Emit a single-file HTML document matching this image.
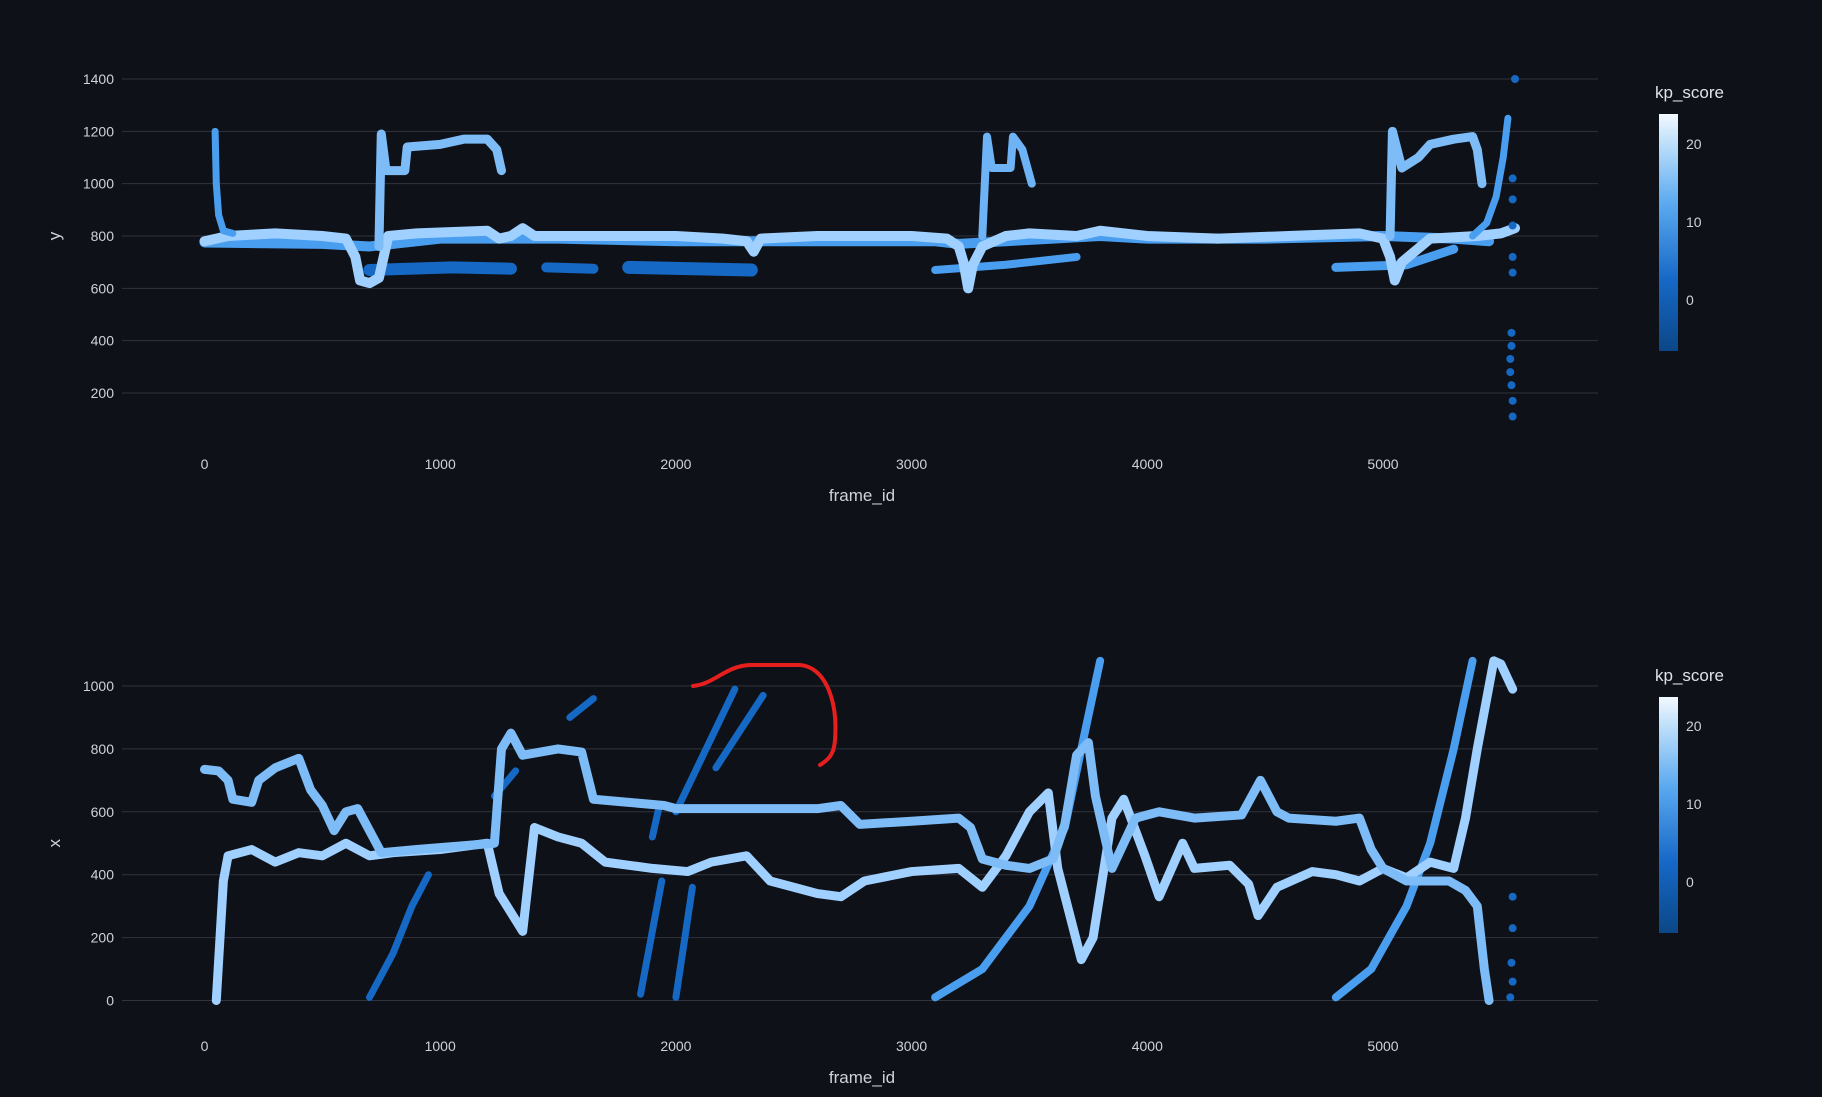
<!DOCTYPE html>
<html><head><meta charset="utf-8"><style>
body{margin:0;background:#0e1117;}
svg{display:block;font-family:"Liberation Sans",sans-serif;}
</style></head><body>
<svg id="c" width="1822" height="1097" viewBox="0 0 1822 1097">
<defs><linearGradient id="cb" x1="0" y1="1" x2="0" y2="0">
<stop offset="0" stop-color="#0b4787"/><stop offset="0.3" stop-color="#1668c7"/><stop offset="0.62" stop-color="#5aa9f0"/><stop offset="0.9" stop-color="#c7e4fb"/><stop offset="1" stop-color="#f3f9ff"/></linearGradient></defs>
<rect width="1822" height="1097" fill="#0e1117"/>
<g id="top"></g>
<g id="bot"></g>
<path d="M693,686 C715,684 725,666 750,665 L800,665 C825,667 838,700 835,740 C834,755 828,760 820,765" fill="none" stroke="#e61e1e" stroke-width="4" stroke-linecap="round"/>
</svg>
<script>
const xTicks=[0,1000,2000,3000,4000,5000];
const topYTicks=[200,400,600,800,1000,1200,1400];
const botYTicks=[0,200,400,600,800,1000];
const cbTicks=[20,10,0];
const LIGHT="#9fd0ff",MID="#4a9eef",DARK="#1568c4";
const topMain=[[0,780],[100,800],[300,810],[500,800],[600,790],[640,720],[660,630],[700,620],[740,640],[780,800],[900,810],[1200,820],[1250,790],[1300,800],[1350,830],[1400,800],[1600,800],[2000,800],[2200,790],[2300,780],[2330,740],[2360,790],[2600,800],[3000,800],[3150,790],[3200,760],[3220,700],[3240,600],[3260,690],[3300,760],[3400,800],[3500,810],[3700,800],[3800,820],[4000,800],[4300,790],[4600,800],[4900,810],[5000,790],[5030,720],[5050,630],[5080,700],[5200,790],[5400,800],[5500,810],[5560,830]];
const topSecond=[[0,775],[500,770],[700,760],[1000,790],[1500,790],[2000,780],[2500,780],[3100,780],[3200,770],[3600,790],[3800,800],[4000,790],[4500,790],[5000,800],[5300,790],[5450,780]];
const topSpike=[[45,1200],[50,1000],[60,880],[80,820],[120,810]];
const topBlock1=[[740,760],[750,1190],[770,1050],[850,1050],[860,1140],[1000,1150],[1100,1170],[1200,1170],[1240,1130],[1260,1050]];
const topBlock2=[[3300,800],[3320,1180],[3340,1060],[3420,1060],[3430,1180],[3470,1130],[3510,1000]];
const topBlock3=[[5030,800],[5040,1200],[5080,1060],[5150,1100],[5200,1150],[5300,1170],[5380,1180],[5400,1130],[5420,1000]];
const topRise=[[5380,800],[5440,850],[5480,950],[5510,1100],[5530,1250]];
const topDark1=[[700,670],[1050,680],[1300,675]];
const topDark2=[[1450,680],[1650,675]];
const topDark3=[[1800,680],[2320,670]];
const topDark4=[[3100,670],[3400,690],[3700,720]];
const topDark5=[[4800,680],[5100,690],[5300,750]];
const topDots=[[5550,1020],[5550,940],[5550,840],[5550,720],[5550,660],[5545,430],[5545,380],[5540,330],[5540,280],[5545,230],[5550,170],[5550,110],[5560,1400]];
const botUpper=[[0,735],[60,730],[100,700],[120,640],[200,630],[230,700],[300,740],[400,770],[450,670],[500,620],[550,540],[600,600],[650,610],[700,540],[750,470],[900,480],[1230,500],[1260,800],[1300,850],[1350,780],[1500,800],[1600,790],[1650,640],[1800,630],[1950,620],[2000,610],[2200,610],[2400,610],[2600,610],[2700,620],[2780,560],[3000,570],[3200,580],[3250,550],[3300,450],[3400,430],[3500,420],[3600,450],[3650,560],[3700,780],[3750,820],[3780,650],[3850,420],[3950,580],[4050,600],[4200,580],[4400,590],[4480,700],[4550,600],[4600,580],[4800,570],[4900,580],[4950,480],[5000,420],[5100,380],[5200,380],[5280,380],[5350,350],[5400,300],[5430,100],[5450,0]];
const botLower=[[50,0],[80,380],[100,460],[200,480],[300,440],[400,470],[500,460],[600,500],[700,460],[800,470],[1000,480],[1200,500],[1250,340],[1350,220],[1400,550],[1500,520],[1600,500],[1700,440],[1900,420],[2050,410],[2150,440],[2300,460],[2400,380],[2500,360],[2600,340],[2700,330],[2800,380],[3000,410],[3200,420],[3300,360],[3400,460],[3500,600],[3580,660],[3620,420],[3720,130],[3770,200],[3850,580],[3900,640],[3990,460],[4050,330],[4150,500],[4200,420],[4350,430],[4430,370],[4470,270],[4550,360],[4700,410],[4800,400],[4900,380],[5000,420],[5100,390],[5200,440],[5300,420],[5350,580],[5400,800],[5450,1000],[5470,1080],[5500,1070],[5550,990]];
const botD1=[[700,10],[800,150],[880,300],[950,400]];
const botD2=[[1230,650],[1320,730]];
const botD3=[[1550,900],[1650,960]];
const botD4=[[1850,20],[1940,380]];
const botD5=[[2000,10],[2070,360]];
const botD6=[[2000,600],[2250,990]];
const botD7=[[2170,740],[2370,970]];
const botD8=[[1900,520],[1930,620]];
const botC3=[[3100,10],[3300,100],[3500,300],[3650,550],[3720,800],[3800,1080]];
const botC4=[[4800,10],[4950,100],[5100,300],[5200,500],[5300,800],[5380,1080]];
const botDots=[[5550,330],[5550,230],[5545,120],[5550,60],[5540,10]];

const NS="http://www.w3.org/2000/svg";
function mk(tag,attrs,parent){const e=document.createElementNS(NS,tag);for(const k in attrs)e.setAttribute(k,attrs[k]);parent.appendChild(e);return e;}
const fx=f=>204.5+f*(1383-204.5)/5000;
function panel(g,yScale,yTicks,tickY,axisLetter,cbTop,cbBot,cbScale){
  yTicks.forEach(v=>{
    const gl=mk('line',{x1:122,x2:1598,y1:yScale(v),y2:yScale(v),stroke:'#31333f','stroke-width':1},g);
    
    
    const t=mk('text',{x:114,y:yScale(v)+5,'text-anchor':'end',fill:'#d0d2d8','font-size':14},g);t.textContent=v;
    
    
  });
  xTicks.forEach(v=>{
    const t=mk('text',{x:fx(v),y:tickY,'text-anchor':'middle',fill:'#d0d2d8','font-size':14},g);t.textContent=v;
    
    
  });
  const xt=mk('text',{x:862,y:tickY+32,'text-anchor':'middle',fill:'#d0d2d8','font-size':17},g);xt.textContent='frame_id';
  
  
  const ym=(yScale(yTicks[0])+yScale(yTicks[yTicks.length-1]))/2;
  const yt=mk('text',{x:60,y:ym,'text-anchor':'middle',fill:'#d0d2d8','font-size':17,transform:`rotate(-90 60 ${ym})`},g);yt.textContent=axisLetter;
  
  
  const ct=mk('text',{x:1655,y:cbTop-16,fill:'#e0e2e8','font-size':17},g);ct.textContent='kp_score';
  
  
  const cr=mk('rect',{x:1659,y:cbTop,width:19,height:cbBot-cbTop,fill:'url(#cb)'},g);
  
  
  cbTicks.forEach(v=>{
    const t=mk('text',{x:1686,y:cbScale(v)+5,fill:'#d0d2d8','font-size':14},g);t.textContent=v;
    
    
  });
}
function track(g,data,yScale,color,w,name){
  const p=mk('polyline',{points:data.map(d=>fx(d[0])+','+yScale(d[1])).join(' '),fill:'none',stroke:color,'stroke-width':w,'stroke-linejoin':'round','stroke-linecap':'round'},g);
  
  
}
function dots(g,data,yScale,color,name){
  data.forEach(d=>{const c=mk('circle',{cx:fx(d[0]),cy:yScale(d[1]),r:4,fill:color},g);
    
    });
}
const ty=v=>79+(1400-v)*(393-79)/1200;
const by=v=>1000.5-v*(1000.5-686)/1000;
const T=document.getElementById('top'),B=document.getElementById('bot');
panel(T,ty,topYTicks,469,'y',114,351,v=>300-v*(300-144)/20);
panel(B,by,botYTicks,1051,'x',697,933,v=>882-v*(882-726)/20);
track(T,topDark1,ty,DARK,12,'track-dark');track(T,topDark2,ty,DARK,10,'track-dark');track(T,topDark3,ty,DARK,13,'track-dark');
track(T,topDark4,ty,MID,8,'track-mid');track(T,topDark5,ty,MID,9,'track-mid');
track(T,topSecond,ty,MID,10,'track-second');track(T,topMain,ty,LIGHT,10,'track-main');
track(T,topSpike,ty,MID,7,'track-spike');track(T,topBlock1,ty,"#7dbcf7",9,'track-block');track(T,topBlock2,ty,"#6db3f5",8,'track-block');track(T,topBlock3,ty,"#7dbcf7",9,'track-block');track(T,topRise,ty,MID,7,'track-rise');
dots(T,topDots,ty,DARK,'outlier-point');
[botD1,botD2,botD3,botD4,botD5,botD6,botD7,botD8].forEach(d=>track(B,d,by,DARK,7,'track-dark'));
track(B,botC3,by,MID,8,'track-curve');track(B,botC4,by,MID,8,'track-curve');
track(B,botLower,by,LIGHT,9,'track-lower');track(B,botUpper,by,"#7dbcf7",9,'track-upper');
dots(B,botDots,by,DARK,'outlier-point');
</script>
</body></html>
